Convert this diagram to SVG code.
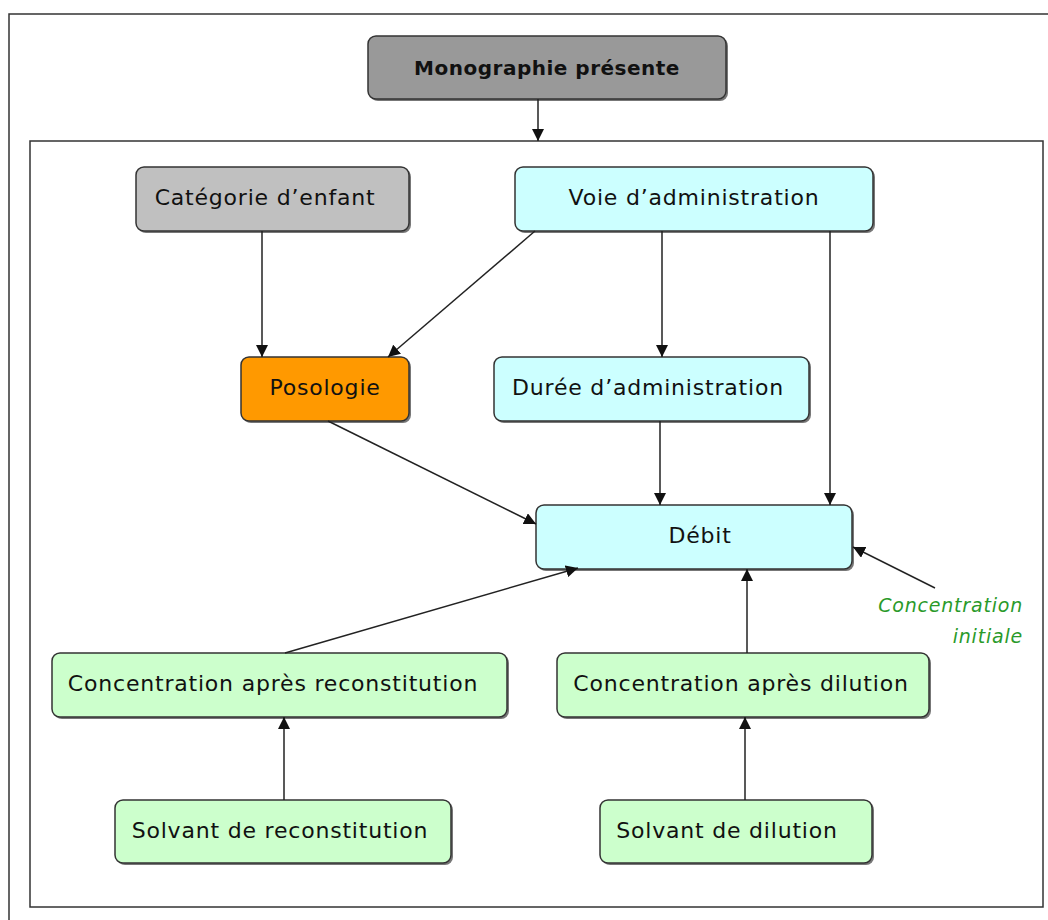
<svg xmlns="http://www.w3.org/2000/svg" width="1048" height="920" viewBox="0 0 1048 920">
<style>
.box{stroke:#333;stroke-width:1.5}
.sh{fill:#777}
.t{font-family:"DejaVu Sans",sans-serif;font-size:22px;letter-spacing:0.8px;fill:#111;text-anchor:middle;dominant-baseline:central}
.c{stroke:#222;stroke-width:1.5;fill:none;marker-end:url(#a)}
.g{font-family:"DejaVu Sans",sans-serif;font-size:19px;letter-spacing:0.8px;font-style:italic;fill:#2a9a2a;text-anchor:end}
</style>
<defs>
<marker id="a" viewBox="0 0 12 12" refX="12" refY="6" markerWidth="12" markerHeight="12" markerUnits="userSpaceOnUse" orient="auto">
<path d="M0,0 L12,6 L0,12 z" fill="#111"/>
</marker>
</defs>
<rect x="0" y="0" width="1048" height="920" fill="#fff"/>
<rect x="9" y="14" width="1060" height="930" fill="none" stroke="#333" stroke-width="1.5"/>
<rect x="30" y="141" width="1013" height="766" fill="none" stroke="#333" stroke-width="1.5"/>
<g id="n-mono">
<rect class="sh" x="370" y="38" width="358" height="63" rx="8"/>
<rect class="box" x="368" y="36" width="358" height="63" rx="8" fill="#999"/>
<text class="t" x="547" y="68" font-weight="bold" style="font-size:20px;letter-spacing:0.5px">Monographie présente</text>
</g>
<g id="n-cat">
<rect class="sh" x="138" y="169" width="273" height="64" rx="8"/>
<rect class="box" x="136" y="167" width="273" height="64" rx="8" fill="#c0c0c0"/>
<text class="t" x="265" y="197">Catégorie d’enfant</text>
</g>
<g id="n-voie">
<rect class="sh" x="517" y="169" width="358" height="64" rx="8"/>
<rect class="box" x="515" y="167" width="358" height="64" rx="8" fill="#ccffff"/>
<text class="t" x="694" y="197">Voie d’administration</text>
</g>
<g id="n-poso">
<rect class="sh" x="243" y="359" width="168" height="64" rx="8"/>
<rect class="box" x="241" y="357" width="168" height="64" rx="8" fill="#ff9900"/>
<text class="t" x="325" y="387">Posologie</text>
</g>
<g id="n-duree">
<rect class="sh" x="496" y="359" width="315" height="64" rx="8"/>
<rect class="box" x="494" y="357" width="315" height="64" rx="8" fill="#ccffff"/>
<text class="t" x="648" y="387">Durée d’administration</text>
</g>
<g id="n-debit">
<rect class="sh" x="538" y="507" width="316" height="64" rx="8"/>
<rect class="box" x="536" y="505" width="316" height="64" rx="8" fill="#ccffff"/>
<text class="t" x="700" y="535">Débit</text>
</g>
<g id="n-cinit">
<text class="g" x="1023" y="612">Concentration</text>
<text class="g" x="1023" y="643">initiale</text>
</g>
<g id="n-crec">
<rect class="sh" x="54" y="655" width="455" height="64" rx="8"/>
<rect class="box" x="52" y="653" width="455" height="64" rx="8" fill="#ccffcc"/>
<text class="t" x="273" y="683">Concentration après reconstitution</text>
</g>
<g id="n-cdil">
<rect class="sh" x="559" y="655" width="372" height="64" rx="8"/>
<rect class="box" x="557" y="653" width="372" height="64" rx="8" fill="#ccffcc"/>
<text class="t" x="741" y="683">Concentration après dilution</text>
</g>
<g id="n-srec">
<rect class="sh" x="117" y="802" width="336" height="63" rx="8"/>
<rect class="box" x="115" y="800" width="336" height="63" rx="8" fill="#ccffcc"/>
<text class="t" x="280" y="830">Solvant de reconstitution</text>
</g>
<g id="n-sdil">
<rect class="sh" x="602" y="802" width="272" height="63" rx="8"/>
<rect class="box" x="600" y="800" width="272" height="63" rx="8" fill="#ccffcc"/>
<text class="t" x="727" y="830">Solvant de dilution</text>
</g>
<g id="connectors">
<line class="c" x1="538" y1="99" x2="538" y2="141"/>
<line class="c" x1="262" y1="231" x2="262" y2="357"/>
<line class="c" x1="535" y1="231" x2="388" y2="357"/>
<line class="c" x1="662" y1="231" x2="662" y2="357"/>
<line class="c" x1="830" y1="231" x2="830" y2="505"/>
<line class="c" x1="328" y1="421" x2="536" y2="524"/>
<line class="c" x1="660" y1="421" x2="660" y2="505"/>
<line class="c" x1="285" y1="653" x2="578" y2="568"/>
<line class="c" x1="747" y1="653" x2="747" y2="569"/>
<line class="c" x1="935" y1="588" x2="853" y2="547"/>
<line class="c" x1="284" y1="800" x2="284" y2="717"/>
<line class="c" x1="745" y1="800" x2="745" y2="717"/>
</g>
</svg>
